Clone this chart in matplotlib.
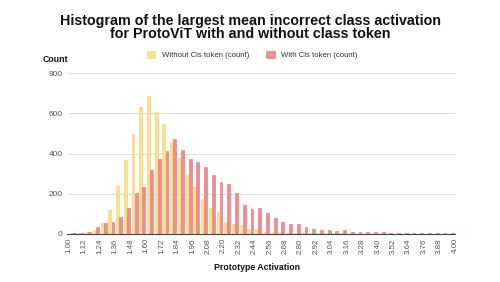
import numpy as np
import matplotlib
matplotlib.use('Agg')
import matplotlib.pyplot as plt
from matplotlib.patches import Patch

plt.rcParams['font.family'] = ['Liberation Sans', 'DejaVu Sans']

# bucket edges 1.00 .. 4.00, width 0.06
bin_start = 1.00
bin_width = 0.06
tick_labels = ['1.00', '1.12', '1.24', '1.36', '1.48', '1.60', '1.72', '1.84', '1.96',
               '2.08', '2.20', '2.32', '2.44', '2.56', '2.68', '2.80', '2.92', '3.04',
               '3.16', '3.28', '3.40', '3.52', '3.64', '3.76', '3.88', '4.00']

without_cls = [4, 4, 10, 22, 53, 118, 240, 366, 498, 632,
               687, 606, 546, 458, 380, 292, 234, 174, 127, 108,
               62, 52, 43, 26, 25, 10, 9, 12, 5, 4,
               8, 4, 3, 4, 3, 5, 2, 2, 2, 2,
               2, 1, 2, 1, 1, 2, 1, 1, 1, 1]
with_cls = [3, 3, 12, 33, 53, 62, 86, 131, 206, 235,
            318, 375, 412, 470, 415, 372, 357, 332, 292, 256,
            248, 206, 143, 122, 127, 103, 79, 61, 49, 52,
            36, 27, 21, 21, 17, 21, 11, 11, 8, 11,
            8, 5, 5, 5, 5, 3, 3, 3, 3, 3]

yellow = '#FDE08D'
yellow_edge = '#F5D070'
red = '#EC8F93'
red_edge = '#E07077'

fig = plt.figure(figsize=(5.0, 2.82), dpi=100)
ax = fig.add_axes([67 / 500, 1 - 234 / 282, 388 / 500, 161 / 282])

centers = bin_start + bin_width * (np.arange(len(with_cls)) + 0.5)
w = 0.022
ax.bar(centers - 0.012, without_cls, width=w, color=yellow, edgecolor=yellow_edge,
       linewidth=0.4, zorder=3)
ax.bar(centers + 0.012, with_cls, width=w, color=red, edgecolor=red_edge,
       linewidth=0.4, zorder=3)

ax.set_xlim(0.985, 4.0)
ax.set_ylim(0, 800)
ticks = [float(t) for t in tick_labels]
ax.set_xticks(ticks)
ax.set_xticklabels(tick_labels, rotation=90, fontsize=5.7, color='#555555')
ax.set_yticks([0, 200, 400, 600, 800])
ax.set_yticklabels(['0', '200', '400', '600', '800'], fontsize=6, color='#555555')
ax.tick_params(length=0, pad=3)

ax.grid(axis='y', color='#DDDDDD', linewidth=0.8, zorder=0)
for s in ['top', 'right', 'left']:
    ax.spines[s].set_visible(False)
ax.spines['bottom'].set_color('#444444')
ax.spines['bottom'].set_linewidth(0.8)
ax.spines['bottom'].set_zorder(4)

fig.text(0.5, 1 - 20.5 / 282,
         'Histogram of the largest mean incorrect class activation',
         ha='center', va='center', fontsize=10.3, fontweight='bold', color='#111111')
fig.text(0.5, 1 - 34.3 / 282, 'for ProtoViT with and without class token',
         ha='center', va='center', fontsize=10.3, fontweight='bold', color='#111111')
fig.text(43 / 500, 1 - 60 / 282, 'Count', ha='left', va='center', fontsize=6.3,
         fontweight='bold', color='#111111')
fig.text(257 / 500, 1 - 268 / 282, 'Prototype Activation', ha='center', va='center',
         fontsize=6.3, fontweight='bold', color='#111111')

handles = [Patch(facecolor=yellow, edgecolor=yellow_edge, linewidth=0.4),
           Patch(facecolor=red, edgecolor=red_edge, linewidth=0.4)]
fig.legend(handles, ['Without Cls token (count)', 'With Cls token (count)'],
           loc='center', bbox_to_anchor=(252 / 500, 1 - 55 / 282), ncol=2,
           frameon=False, fontsize=5.6, handlelength=1.1, handleheight=1.1,
           handletextpad=0.8, columnspacing=2.2, labelcolor='#333333')

fig.savefig('out.png', dpi=100)
